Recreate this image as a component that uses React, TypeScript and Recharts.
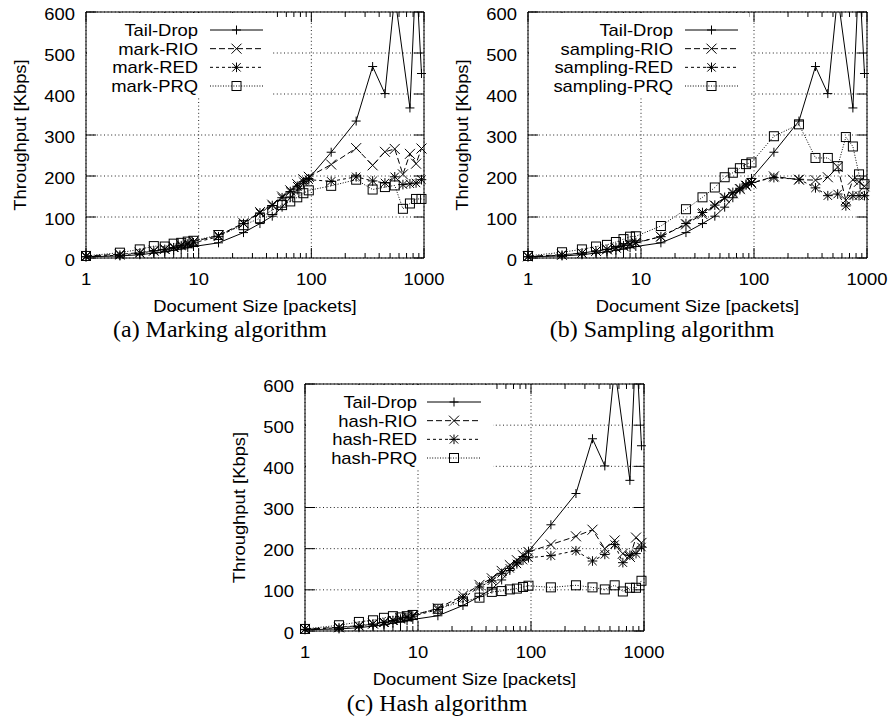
import React from 'react';
import { LineChart, Line, XAxis, YAxis, CartesianGrid, Legend } from 'recharts';

// ---------- data ----------
const sizes = [1, 2, 3, 4, 5, 6, 7, 8, 9, 15, 25, 35, 45, 55, 65, 75, 85, 95, 150, 250, 350, 450, 550, 650, 750, 850, 950];

const tailDrop = [3, 5, 8, 12, 15, 19, 22, 25, 28, 37, 62, 84, 102, 124, 147, 166, 181, 194, 258, 334, 467, 401, 640, null, 366, 700, 450];

const markRIO = [5, 9, 13, 18, 22, 27, 32, 36, 40, 55, 85, 112, 130, 150, 165, 180, 192, 198, 228, 268, 226, 259, 266, 204, 254, 230, 267];
const markRED = [3, 7, 12, 17, 21, 25, 30, 34, 37, 52, 84, 110, 128, 147, 162, 175, 186, 191, 187, 198, 188, 183, 198, 179, 181, 183, 191];
const markPRQ = [5, 13, 21, 29, 28, 35, 37, 40, 42, 56, 80, 97, 117, 129, 138, 148, 158, 165, 176, 191, 167, 173, 177, 120, 133, 144, 144];

const samplingRIO = [4, 8, 12, 17, 21, 25, 29, 33, 37, 52, 82, 107, 128, 146, 158, 168, 176, 182, 199, 191, 190, 197, 222, 141, 191, 186, 175];
const samplingRED = [3, 7, 12, 17, 21, 25, 30, 34, 38, 52, 84, 111, 129, 148, 160, 170, 178, 184, 196, 192, 171, 152, 156, 127, 152, 152, 152];
const samplingPRQ = [5, 14, 21, 28, 32, 39, 46, 52, 53, 78, 119, 148, 172, 197, 208, 219, 229, 233, 297, 326, 244, 244, 224, 295, 272, 204, 180];

const hashRIO = [5, 9, 13, 18, 22, 27, 31, 35, 38, 55, 86, 112, 128, 146, 160, 172, 184, 192, 210, 230, 246, 200, 220, 188, 180, 227, 214];
const hashRED = [4, 8, 12, 17, 20, 25, 29, 33, 36, 52, 80, 107, 122, 140, 152, 163, 172, 178, 183, 195, 170, 186, 210, 166, 184, 188, 204];
const hashPRQ = [5, 14, 22, 26, 32, 36, 33, 36, 39, 54, 72, 81, 95, 97, 101, 103, 107, 110, 106, 111, 106, 101, 111, 96, 105, 105, 122];

const markLabels = ['Tail-Drop', 'mark-RIO', 'mark-RED', 'mark-PRQ'];
const samplingLabels = ['Tail-Drop', 'sampling-RIO', 'sampling-RED', 'sampling-PRQ'];
const hashLabels = ['Tail-Drop', 'hash-RIO', 'hash-RED', 'hash-PRQ'];

const xMajorTicks = [1, 10, 100, 1000];
const xMinorTicks = [2, 3, 4, 5, 6, 7, 8, 9, 20, 30, 40, 50, 60, 70, 80, 90, 200, 300, 400, 500, 600, 700, 800, 900];
const yTicks = [0, 100, 200, 300, 400, 500, 600];

const captions = ['(a) Marking algorithm', '(b) Sampling algorithm', '(c) Hash algorithm'];
const xTitle = 'Document Size [packets]';
const yTitle = 'Throughput [Kbps]';

// ---------- style / layout ----------
const FONT = "'Liberation Sans', Arial, Helvetica, sans-serif";
const SERIF = "'Liberation Serif', 'Times New Roman', Times, serif";
const SX = 1.15;
const FS = 16;
const ML = 86;
const MT = 12;
const MR = 16;
const EXTRA_R = 30;
const MB = 62;
const TINY = 0.01;
const Y_MAX = 600;

type MarkerKind = 'plus' | 'cross' | 'star' | 'square';

const seriesLook: { marker: MarkerKind; dash?: string }[] = [
  { marker: 'plus', dash: undefined },
  { marker: 'cross', dash: '6 3' },
  { marker: 'star', dash: '3 3' },
  { marker: 'square', dash: '1 1.6' },
];

const panels = [
  {
    labels: markLabels,
    values: [tailDrop, markRIO, markRED, markPRQ],
    left: 86, top: 12, w: 338, h: 246,
    legendTextRight: 112, legendLineStart: 124, legendLineEnd: 177, legendBoxW: 187,
  },
  {
    labels: samplingLabels,
    values: [tailDrop, samplingRIO, samplingRED, samplingPRQ],
    left: 528, top: 12, w: 339, h: 246,
    legendTextRight: 145, legendLineStart: 157, legendLineEnd: 210, legendBoxW: 221,
  },
  {
    labels: hashLabels,
    values: [tailDrop, hashRIO, hashRED, hashPRQ],
    left: 305, top: 384, w: 339, h: 247,
    legendTextRight: 112, legendLineStart: 122, legendLineEnd: 176, legendBoxW: 188,
  },
];

const captionPos = [
  { x: 220, y: 337 },
  { x: 662, y: 337 },
  { x: 437, y: 711 },
];

// ---------- pieces ----------
function Marker({ kind, cx, cy }: { kind: MarkerKind; cx: number; cy: number }) {
  const st = { stroke: '#000', strokeWidth: 1, fill: 'none' };
  const s = 4.5;
  if (kind === 'plus') {
    return (
      <g>
        <line x1={cx - s} y1={cy} x2={cx + s} y2={cy} {...st} />
        <line x1={cx} y1={cy - s} x2={cx} y2={cy + s} {...st} />
      </g>
    );
  }
  if (kind === 'cross') {
    const c = 5;
    return (
      <g>
        <line x1={cx - c} y1={cy - c} x2={cx + c} y2={cy + c} {...st} />
        <line x1={cx - c} y1={cy + c} x2={cx + c} y2={cy - c} {...st} />
      </g>
    );
  }
  if (kind === 'star') {
    const t = 4.8;
    const d = 4.2;
    return (
      <g>
        <line x1={cx - t} y1={cy} x2={cx + t} y2={cy} {...st} />
        <line x1={cx} y1={cy - t} x2={cx} y2={cy + t} {...st} />
        <line x1={cx - d} y1={cy - d} x2={cx + d} y2={cy + d} {...st} />
        <line x1={cx - d} y1={cy + d} x2={cx + d} y2={cy - d} {...st} />
      </g>
    );
  }
  return <rect x={cx - s} y={cy - s} width={2 * s} height={2 * s} {...st} />;
}

const makeDot = (kind: MarkerKind) => (props: any) => {
  const { cx, cy, index } = props;
  if (cx == null || cy == null || !isFinite(cx) || !isFinite(cy)) return <g key={`dot-${index}`} />;
  return (
    <g key={`dot-${index}`}>
      <Marker kind={kind} cx={cx} cy={cy} />
    </g>
  );
};

const Empty = () => <g />;

const XTick = (props: any) => {
  const { x, y, payload } = props;
  return (
    <text transform={`translate(${x},${y}) scale(${SX},1)`} textAnchor="middle" fontSize={FS} fontFamily={FONT} fill="#000">
      {payload.value}
    </text>
  );
};

const YTick = (props: any) => {
  const { x, y, payload } = props;
  return (
    <text transform={`translate(${x},${y + 7.5}) scale(${SX},1)`} textAnchor="end" fontSize={FS} fontFamily={FONT} fill="#000">
      {payload.value}
    </text>
  );
};

const XTitle = (props: any) => {
  const vb = props.viewBox || {};
  const x = (vb.x ?? ML) + (vb.width ?? 338) / 2;
  const y = (vb.y ?? 258) + 53.7;
  return (
    <text transform={`translate(${x},${y}) scale(${SX},1)`} textAnchor="middle" fontSize={FS} fontFamily={FONT} fill="#000">
      {xTitle}
    </text>
  );
};

const YTitle = (props: any) => {
  const vb = props.viewBox || {};
  const x = (vb.x ?? 0) + 25.5;
  const y = (vb.y ?? MT) + (vb.height ?? 246) / 2;
  return (
    <text transform={`translate(${x},${y}) rotate(-90) scale(${SX},1)`} textAnchor="middle" fontSize={FS} fontFamily={FONT} fill="#000">
      {yTitle}
    </text>
  );
};

function LegendBox({ p }: { p: any }) {
  const w = p.legendBoxW - 1;
  const h = 83;
  const mid = (p.legendLineStart + p.legendLineEnd) / 2 - 1;
  return (
    <svg width={w} height={h} style={{ display: 'block' }}>
      <rect x={0} y={0} width={w} height={h} fill="#fff" />
      {p.labels.map((name: string, k: number) => {
        const y = 17 + k * 18.67;
        const look = seriesLook[k];
        return (
          <g key={name}>
            <text
              transform={`translate(${p.legendTextRight - 1},${y + 6}) scale(${SX},1)`}
              textAnchor="end"
              fontSize={FS}
              fontFamily={FONT}
              fill="#000"
            >
              {name}
            </text>
            <line x1={p.legendLineStart - 1} x2={p.legendLineEnd - 1} y1={y} y2={y} stroke="#000" strokeWidth={1} strokeDasharray={look.dash} />
            <Marker kind={look.marker} cx={mid} cy={y} />
          </g>
        );
      })}
    </svg>
  );
}

function Panel({ p }: { p: any }) {
  const data = sizes.map((size, i) => {
    const row: any = { size };
    p.values.forEach((arr: (number | null)[], k: number) => {
      const v = arr[i];
      row[`s${k}`] = v;
      row[`m${k}`] = v != null && v <= Y_MAX ? v : null;
    });
    return row;
  });
  const W = ML + p.w + MR + EXTRA_R;
  const H = MT + p.h + MB;
  const common = { type: 'number' as const, allowDataOverflow: true };
  return (
    <div style={{ position: 'absolute', left: p.left - ML, top: p.top - MT, width: W, height: H }}>
      <LineChart width={W} height={H} data={data} margin={{ top: MT - 2 * TINY, right: MR + EXTRA_R - TINY, bottom: 0, left: 0 }}>
        <CartesianGrid xAxisId="bx" yAxisId="y" stroke="#222" strokeWidth={1} strokeDasharray="1 2.6" fill="none" />
        <XAxis
          xAxisId="bx" dataKey="size" type="number" scale="log" domain={[1, 1000]}
          ticks={xMajorTicks} interval={0} tickSize={-10} tickMargin={37} tick={XTick}
          height={MB - TINY} stroke="#000" label={{ content: XTitle }}
        />
        <XAxis
          xAxisId="amin" dataKey="size" {...common} scale="log" domain={[1, 1000]}
          ticks={xMinorTicks} interval={0} tickSize={-5} tick={Empty} axisLine={false}
          height={TINY} stroke="#000"
        />
        <XAxis
          xAxisId="tmaj" orientation="top" dataKey="size" {...common} scale="log" domain={[1, 1000]}
          ticks={xMajorTicks} interval={0} tickSize={-10} tick={Empty}
          height={TINY} stroke="#000"
        />
        <XAxis
          xAxisId="tmin" orientation="top" dataKey="size" {...common} scale="log" domain={[1, 1000]}
          ticks={xMinorTicks} interval={0} tickSize={-5} tick={Empty} axisLine={false}
          height={TINY} stroke="#000"
        />
        <YAxis
          yAxisId="y" {...common} domain={[0, Y_MAX]} ticks={yTicks} interval={0}
          tickSize={-10} tickMargin={21} tick={YTick} width={ML} stroke="#000"
          label={{ content: YTitle }}
        />
        <YAxis
          yAxisId="r" orientation="right" {...common} domain={[0, Y_MAX]} ticks={yTicks} interval={0}
          tickSize={-10} tick={Empty} width={TINY} stroke="#000"
        />
        <YAxis yAxisId="y2" type="number" domain={[0, Y_MAX]} hide />
        {seriesLook.map((look, k) => (
          <Line
            key={`line-${k}`}
            xAxisId="bx"
            yAxisId="y"
            dataKey={`s${k}`}
            type="linear"
            stroke="#000"
            strokeWidth={1}
            strokeDasharray={look.dash}
            dot={false}
            activeDot={false}
            connectNulls={k === 0}
            isAnimationActive={false}
          />
        ))}
        {seriesLook.map((look, k) => (
          <Line
            key={`marks-${k}`}
            xAxisId="bx"
            yAxisId="y2"
            dataKey={`m${k}`}
            type="linear"
            stroke="none"
            dot={makeDot(look.marker)}
            activeDot={false}
            isAnimationActive={false}
            legendType="none"
          />
        ))}
        <Legend
          layout="horizontal"
          verticalAlign="middle"
          align="center"
          width={p.legendBoxW - 1}
          height={83}
          wrapperStyle={{ left: ML + 1, top: MT + 1, width: p.legendBoxW - 1, height: 83, margin: 0, padding: 0, lineHeight: 0 }}
          content={() => <LegendBox p={p} />}
        />
      </LineChart>
    </div>
  );
}

export default function App() {
  return (
    <div style={{ position: 'absolute', left: 0, top: 0, width: 889, height: 717, background: '#fff', overflow: 'hidden', fontFamily: FONT }}>
      {panels.map((p, i) => (
        <Panel key={i} p={p} />
      ))}
      <svg width={889} height={717} style={{ position: 'absolute', left: 0, top: 0, pointerEvents: 'none' }}>
        {captions.map((c, i) => (
          <text
            key={c}
            transform={`translate(${captionPos[i].x},${captionPos[i].y}) scale(1.04,1)`}
            textAnchor="middle"
            fontSize={23}
            fontFamily={SERIF}
            fill="#000"
          >
            {c}
          </text>
        ))}
      </svg>
    </div>
  );
}
